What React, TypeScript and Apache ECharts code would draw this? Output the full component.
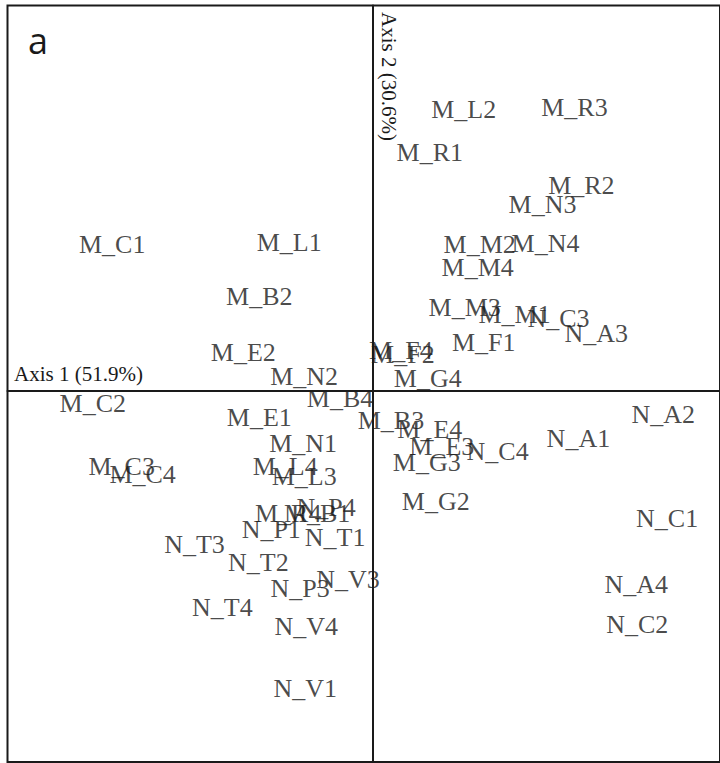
import React, { useEffect, useRef } from "react";
import * as echarts from "echarts";

// Sample labels and their ordination scores (Axis 1, Axis 2)
const mLabels = [
  "M_C1", "M_C2", "M_C3", "M_C4",
  "M_L1", "M_L2", "M_L3", "M_L4",
  "M_B1", "M_B2", "M_B3", "M_B4",
  "M_E1", "M_E2", "M_E3", "M_E4",
  "M_N1", "M_N2", "M_N3", "M_N4",
  "M_R1", "M_R2", "M_R3", "M_R4",
  "M_M1", "M_M2", "M_M3", "M_M4",
  "M_F1", "M_F2", "M_F4",
  "M_G2", "M_G3", "M_G4",
];
const mAxis1 = [
  -2.615, -2.81, -2.52, -2.31,
  -0.84, 0.91, -0.69, -0.88,
  -0.56, -1.14, 0.18, -0.33,
  -1.14, -1.3, 0.69, 0.57,
  -0.7, -0.69, 1.7, 1.73,
  0.57, 2.09, 2.02, -0.85,
  1.42, 1.07, 0.92, 1.05,
  1.11, 0.3, 0.28,
  0.63, 0.54, 0.55,
];
const mAxis2 = [
  1.47, -0.12, -0.75, -0.83,
  1.49, 2.82, -0.85, -0.75,
  -1.22, 0.95, -0.29, -0.07,
  -0.26, 0.39, -0.55, -0.38,
  -0.52, 0.15, 1.87, 1.48,
  2.39, 2.06, 2.84, -1.22,
  0.77, 1.47, 0.84, 1.24,
  0.49, 0.37, 0.41,
  -1.1, -0.71, 0.13,
];

const nLabels = [
  "N_A1", "N_A2", "N_A3", "N_A4",
  "N_C1", "N_C2", "N_C3", "N_C4",
  "N_T1", "N_T2", "N_T3", "N_T4",
  "N_P1", "N_P3", "N_P4",
  "N_V1", "N_V3", "N_V4",
];
const nAxis1 = [
  2.06, 2.91, 2.24, 2.64,
  2.95, 2.65, 1.86, 1.25,
  -0.38, -1.15, -1.79, -1.51,
  -1.02, -0.73, -0.47,
  -0.68, -0.25, -0.67,
];
const nAxis2 = [
  -0.47, -0.23, 0.58, -1.93,
  -1.27, -2.33, 0.73, -0.6,
  -1.46, -1.71, -1.53, -2.16,
  -1.38, -1.97, -1.16,
  -2.97, -1.88, -2.35,
];

const axis1Title = "Axis 1 (51.9%)";
const axis2Title = "Axis 2 (30.6%)";
const panelLetter = "a";

const INK = "#1a1a1a";
const SERIF = "'Liberation Serif', 'Times New Roman', serif";

export default function App() {
  const ref = useRef<HTMLDivElement>(null);

  useEffect(() => {
    if (!ref.current) return;
    const chart = echarts.init(ref.current, null, { renderer: "svg" });

    const toData = (labels: string[], a1: number[], a2: number[]) =>
      labels.map((name, i) => ({ name, value: [a1[i], a2[i]] }));

    const labelStyle = {
      show: true,
      position: "inside",
      formatter: "{b}",
      color: INK,
      fontFamily: SERIF,
      fontSize: 26,
    };

    const axisCommon = {
      type: "value",
      splitLine: { show: false },
      axisTick: { show: false },
      axisLabel: { show: false },
      axisLine: { show: true, onZero: true, lineStyle: { color: INK, width: 2 } },
    };

    chart.setOption({
      animation: false,
      backgroundColor: "#ffffff",
      grid: {
        left: 7.5,
        right: -2,
        top: 5.5,
        bottom: 1,
        show: true,
        borderColor: INK,
        borderWidth: 2,
        backgroundColor: "transparent",
      },
      xAxis: { ...axisCommon, min: -3.665, max: 3.48 },
      yAxis: { ...axisCommon, min: -3.71, max: 3.855 },
      graphic: [
        {
          type: "text",
          x: 28,
          y: 40,
          style: {
            text: panelLetter,
            fontFamily: "'Open Sans', 'Noto Sans', sans-serif",
            fontSize: 36,
            fill: INK,
            textAlign: "left",
            textVerticalAlign: "middle",
          },
        },
        {
          type: "text",
          x: 14,
          y: 374,
          style: {
            text: axis1Title,
            fontFamily: SERIF,
            fontSize: 21,
            fill: INK,
            textAlign: "left",
            textVerticalAlign: "middle",
          },
        },
        {
          type: "text",
          x: 389,
          y: 12,
          rotation: -Math.PI / 2,
          style: {
            text: axis2Title,
            fontFamily: SERIF,
            fontSize: 21,
            fill: INK,
            textAlign: "left",
            textVerticalAlign: "middle",
          },
        },
      ],
      series: [
        {
          type: "scatter",
          name: "M",
          symbolSize: 0,
          data: toData(mLabels, mAxis1, mAxis2),
          label: labelStyle,
        },
        {
          type: "scatter",
          name: "N",
          symbolSize: 0,
          data: toData(nLabels, nAxis1, nAxis2),
          label: labelStyle,
        },
      ],
    });

    return () => chart.dispose();
  }, []);

  return (
    <div
      ref={ref}
      style={{ position: "fixed", left: 0, top: 0, width: 720, height: 763, background: "#fff" }}
    />
  );
}
